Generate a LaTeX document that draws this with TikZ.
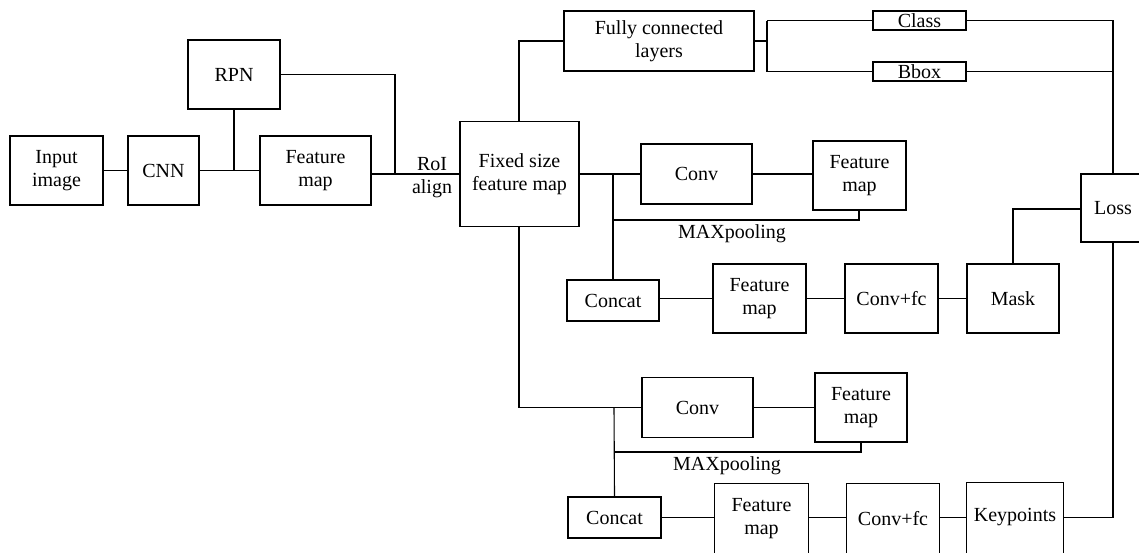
\documentclass[tikz,border=0pt]{standalone}
\usepackage{fontspec}
\setmainfont{Liberation Serif}
\begin{document}
\begin{tikzpicture}[x=1pt,y=-1pt,
  every node/.style={font=\fontsize{20}{23}\selectfont, inner sep=0pt},
  blk/.style={draw, line width=1.1pt, align=center, fill=white},
  cut/.style={align=center},
  ln/.style={line width=1.1pt},
  lbl/.style={align=center}]
\useasboundingbox (0,0) rectangle (1139,552);
\clip (0,0) rectangle (1139,552);
% boxes
\node[blk, minimum width=93, minimum height=69] (inp) at (56.5,170.5) {Input\\image};
\node[blk, minimum width=71, minimum height=69] (cnn) at (163.5,170.5) {CNN};
\node[blk, minimum width=92, minimum height=69] (rpn) at (234,74.5) {RPN};
\node[blk, minimum width=111, minimum height=69] (fm0) at (315.5,170.5) {Feature\\map};
\node[blk, minimum width=119, minimum height=105] (fixed) at (519.5,174) {Fixed size\\feature map};
\node[blk, minimum width=190, minimum height=60] (fc) at (659,41) {Fully connected\\layers};
\node[blk, minimum width=93, minimum height=19] (class) at (919.5,20.5) {Class};
\node[blk, minimum width=93, minimum height=19] (bbox) at (919.5,71.5) {Bbox};
\node[blk, minimum width=111, minimum height=60] (conv1) at (696.5,174) {Conv};
\node[blk, minimum width=93, minimum height=69] (fm1) at (859.5,175.5) {Feature\\map};
\node[blk, minimum width=92, minimum height=41] (concat1) at (613,300.5) {Concat};
\node[blk, minimum width=93, minimum height=69] (fm2) at (759.5,298.5) {Feature\\map};
\node[blk, minimum width=93, minimum height=69] (convfc1) at (891.5,298.5) {Conv+fc};
\node[blk, minimum width=92, minimum height=69] (mask) at (1013,298.5) {Mask};
\node[blk, minimum width=64, minimum height=68, text width=64, align=center] (loss) at (1113,208) {Loss};
\node[blk, minimum width=111, minimum height=60] (conv2) at (697.5,407.5) {Conv};
\node[blk, minimum width=92, minimum height=69] (fm3) at (861,407.5) {Feature\\map};
\node[blk, minimum width=93, minimum height=41] (concat2) at (614.5,517.5) {Concat};
% bottom-row boxes run past the lower edge of the picture
\node[cut, minimum width=93, minimum height=69] (fm4) at (761.5,518.5) {Feature\\map};
\node[cut, minimum width=92, minimum height=69] (convfc2) at (893,518.5) {Conv+fc};
\node[cut, minimum width=96, minimum height=69] (keyp) at (1015,517.5) {Keypoints};
\foreach \b in {fm4,convfc2,keyp}
  \draw[ln] ([yshift=-12]\b.south west) -- (\b.north west) -- (\b.north east) -- ([yshift=-12]\b.south east);
% labels
\node[lbl] (roi) at (432,178) {RoI\\align};
\node[anchor=base] (mp1) at (732,238) {MAXpooling};
\node[anchor=base] (mp2) at (727,470) {MAXpooling};
% junction coordinates
\coordinate (jr) at (234,170.5);
\coordinate (rr) at (395,74.5);
\coordinate (ft) at (519,41);
\coordinate (br) at (767,41);
\coordinate (bt) at (767,20.5);
\coordinate (bb) at (767,71.5);
\coordinate (lx) at (1113,20.5);
\coordinate (lb) at (1113,71.5);
\coordinate (j1) at (613,174);
\coordinate (m1) at (613,220);
\coordinate (m1r) at (859,220);
\coordinate (mk) at (1013,209);
\coordinate (fb) at (519,407.5);
\coordinate (j2) at (614,407.5);
\coordinate (m2) at (614,452);
\coordinate (m2r) at (861,452);
\coordinate (kr) at (1113,517.5);
% connectors
\draw[ln] (inp.east) -- (cnn.west);
\draw[ln] (cnn.east) -- (fm0.west);
\draw[ln] (rpn.south) -- (jr);
\draw[ln] (rpn.east) -- (rr) -- (rr|-fixed.west);
\draw[ln] (fm0.east|-fixed.west) -- (fixed.west);
\draw[ln] (fixed.north-|ft) -- (ft) -- (fc.west);
\draw[ln] (fc.east) -- (br);
\draw[ln] (bt) -- (bb);
\draw[ln] (bt) -- (class.west);
\draw[ln] (bb) -- (bbox.west);
\draw[ln] (class.east) -- (lx) -- (loss.north);
\draw[ln] (bbox.east) -- (lb);
\draw[ln] (fixed.east) -- (conv1.west);
\draw[ln] (j1) -- (concat1.north);
\draw[ln] (m1) -- (m1r) -- (m1r|-fm1.south);
\draw[ln] (conv1.east) -- (fm1.west|-conv1.east);
\draw[ln] (concat1.east|-fm2.west) -- (fm2.west);
\draw[ln] (fm2.east) -- (convfc1.west);
\draw[ln] (convfc1.east) -- (mask.west);
\draw[ln] (mask.north) -- (mk) -- (loss.west|-mk);
\draw[ln] (fixed.south-|fb) -- (fb) -- (conv2.west);
\draw[ln] (j2) -- (concat2.north);
\draw[ln] (m2) -- (m2r) -- (m2r|-fm3.south);
\draw[ln] (conv2.east) -- (fm3.west|-conv2.east);
\draw[ln] (concat2.east) -- (fm4.west|-concat2.east);
\draw[ln] (fm4.east|-concat2.east) -- (convfc2.west|-concat2.east);
\draw[ln] (convfc2.east|-concat2.east) -- (keyp.west|-concat2.east);
\draw[ln] (keyp.east) -- (kr) -- (loss.south);
\end{tikzpicture}
\end{document}
